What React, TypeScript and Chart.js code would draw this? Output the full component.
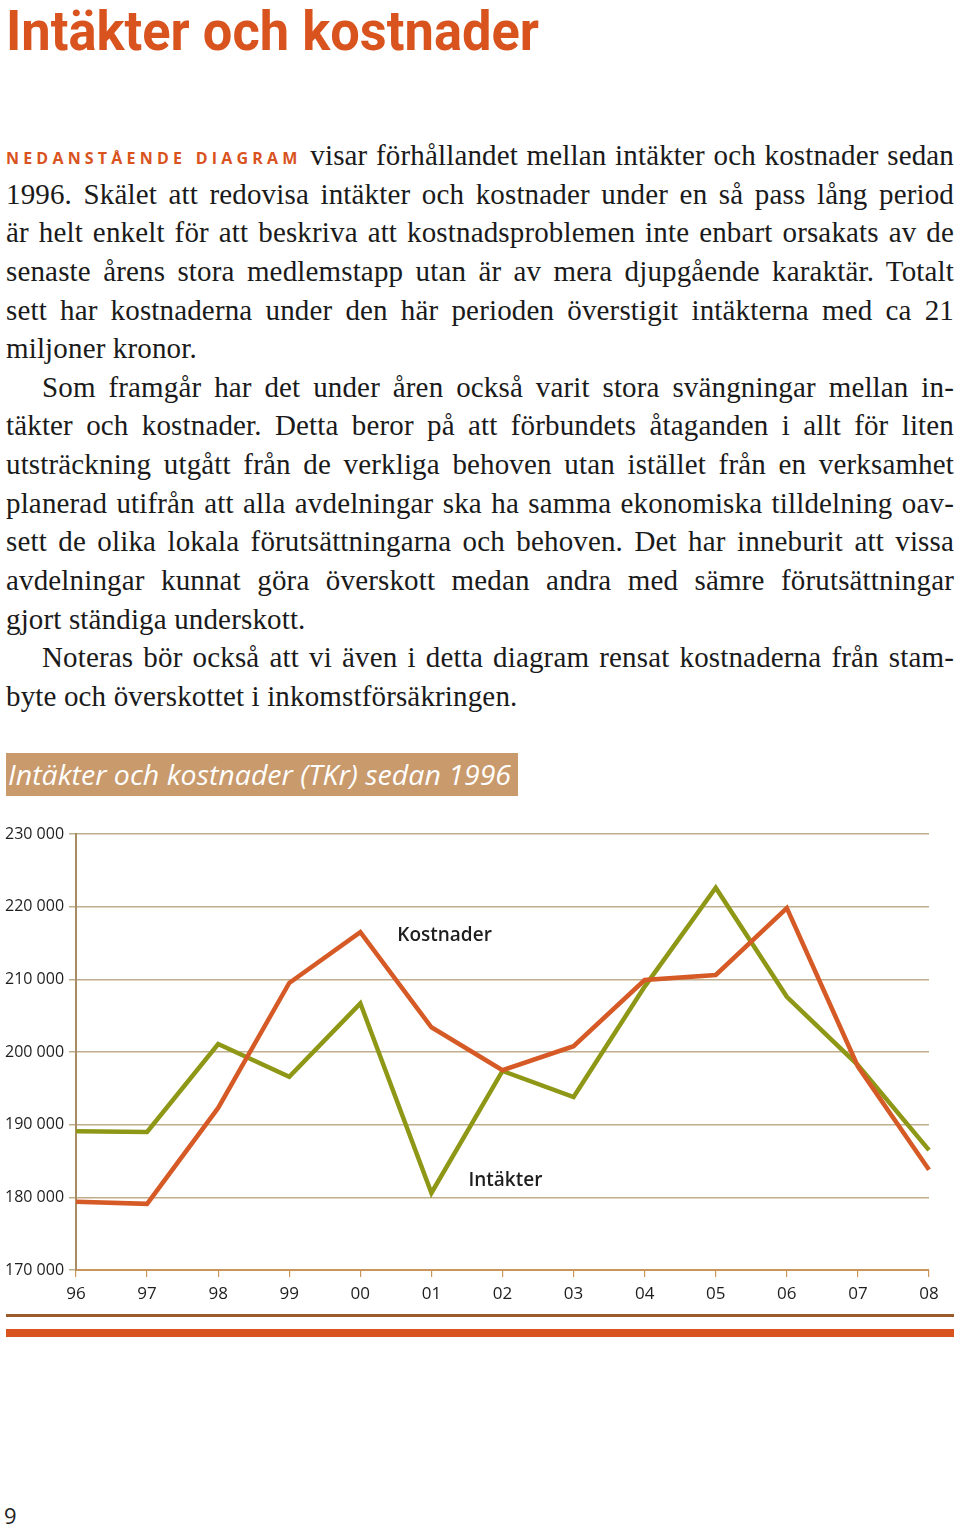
import React, { useEffect, useLayoutEffect, useRef, useState } from "react";
import { Chart, registerables } from "chart.js";

Chart.register(...registerables);

// ---- data ----
const years = ["96", "97", "98", "99", "00", "01", "02", "03", "04", "05", "06", "07", "08"];
const kostnader = [179400, 179100, 192300, 209500, 216500, 203400, 197500, 200800, 209900, 210600, 219800, 198000, 183800];
const intakter = [189100, 189000, 201100, 196600, 206700, 180600, 197400, 193800, 209000, 222600, 207600, 198200, 186500];
const yTickValues = [170000, 180000, 190000, 200000, 210000, 220000, 230000];
const yTickLabels = ["170 000", "180 000", "190 000", "200 000", "210 000", "220 000", "230 000"];
const seriesNames = ["Kostnader", "Intäkter"];
// label anchor positions in data terms (category index, value)
const labelAnchors = [
  { x: 4.52, y: 215300 },
  { x: 5.52, y: 181600 },
];

const ORANGE = "#d65a26";
const GREEN = "#8e9816";
const CHART_FONT = "'Open Sans', 'Noto Sans', sans-serif";

const bodyLines: { text: React.ReactNode; justify: boolean; indent?: boolean }[] = [
  {
    text: (
      <>
        <span style={{ fontFamily: "'Open Sans', sans-serif", fontWeight: 700, fontSize: 16, letterSpacing: 4.2, color: "#d9531e", verticalAlign: 1 }}>NEDANSTÅENDE DIAGRAM</span> visar förhållandet mellan intäkter och kostnader sedan
      </>
    ),
    justify: true,
  },
  { text: "1996. Skälet att redovisa intäkter och kostnader under en så pass lång period", justify: true },
  { text: "är helt enkelt för att beskriva att kostnadsproblemen inte enbart orsakats av de", justify: true },
  { text: "senaste årens stora medlemstapp utan är av mera djupgående karaktär. Totalt", justify: true },
  { text: "sett har kostnaderna under den här perioden överstigit intäkterna med ca 21", justify: true },
  { text: "miljoner kronor.", justify: false },
  { text: "Som framgår har det under åren också varit stora svängningar mellan in-", justify: true, indent: true },
  { text: "täkter och kostnader. Detta beror på att förbundets åtaganden i allt för liten", justify: true },
  { text: "utsträckning utgått från de verkliga behoven utan istället från en verksamhet", justify: true },
  { text: "planerad utifrån att alla avdelningar ska ha samma ekonomiska tilldelning oav-", justify: true },
  { text: "sett de olika lokala förutsättningarna och behoven. Det har inneburit att vissa", justify: true },
  { text: "avdelningar kunnat göra överskott medan andra med sämre förutsättningar", justify: true },
  { text: "gjort ständiga underskott.", justify: false },
  { text: "Noteras bör också att vi även i detta diagram rensat kostnaderna från stam-", justify: true, indent: true },
  { text: "byte och överskottet i inkomstförsäkringen.", justify: false },
];

function FitText({ width, style, children }: { width: number; style: React.CSSProperties; children: React.ReactNode }) {
  const ref = useRef<HTMLSpanElement>(null);
  const [s, setS] = useState(1);
  useLayoutEffect(() => {
    if (ref.current) {
      const w = ref.current.offsetWidth;
      if (w > 0) setS(width / w);
    }
  }, [width]);
  return (
    <span
      ref={ref}
      style={{ display: "inline-block", whiteSpace: "nowrap", transform: `scaleX(${s})`, transformOrigin: "left center", ...style }}
    >
      {children}
    </span>
  );
}

function LineChart() {
  const canvasRef = useRef<HTMLCanvasElement>(null);
  useEffect(() => {
    if (!canvasRef.current) return;
    const labelPlugin = {
      id: "seriesLabels",
      afterDatasetsDraw(chart: any) {
        const ctx = chart.ctx;
        const xs = chart.scales.x;
        const ys = chart.scales.y;
        ctx.save();
        ctx.fillStyle = "#1e1e1e";
        ctx.font = `600 19px ${CHART_FONT}`;
        ctx.textAlign = "left";
        ctx.textBaseline = "alphabetic";
        seriesNames.forEach((name, i) => {
          const a = labelAnchors[i];
          const x0 = xs.getPixelForValue(Math.floor(a.x));
          const x1 = xs.getPixelForValue(Math.ceil(a.x));
          const px = x0 + (x1 - x0) * (a.x - Math.floor(a.x));
          ctx.fillText(name, px, ys.getPixelForValue(a.y));
        });
        ctx.restore();
      },
    };
    const chart = new Chart(canvasRef.current, {
      type: "line",
      data: {
        labels: years,
        datasets: [
          { label: seriesNames[0], data: kostnader, borderColor: ORANGE, borderWidth: 4.5, pointRadius: 0, tension: 0, fill: false, borderJoinStyle: "miter" as any },
          { label: seriesNames[1], data: intakter, borderColor: GREEN, borderWidth: 4.5, pointRadius: 0, tension: 0, fill: false, borderJoinStyle: "miter" as any },
        ],
      },
      options: {
        animation: false,
        responsive: false,
        maintainAspectRatio: false,
        layout: { padding: { left: 5, top: 34, right: 31, bottom: 0 } },
        plugins: { legend: { display: false }, tooltip: { enabled: false } },
        scales: {
          x: {
            type: "category",
            offset: false,
            grid: { drawOnChartArea: false, drawTicks: true, tickLength: 7, color: "#c9955a", lineWidth: 1.2 },
            border: { color: "#c9955a", width: 2 },
            ticks: { color: "#1e1e1e", font: { family: CHART_FONT, size: 17 }, padding: 7, maxRotation: 0, autoSkip: false },
            afterFit: (s: any) => {
              s.height = 40;
            },
          },
          y: {
            min: 170000,
            max: 230000,
            afterBuildTicks: (s: any) => {
              s.ticks = yTickValues.map((v) => ({ value: v }));
            },
            ticks: {
              color: "#1e1e1e",
              font: { family: CHART_FONT, size: 16 },
              crossAlign: "far",
              padding: 4,
              callback: (v: any) => {
                const i = yTickValues.indexOf(Number(v));
                return i >= 0 ? yTickLabels[i] : "";
              },
            },
            grid: { color: "#bfad8c", lineWidth: 1.5, tickLength: 7 },
            border: { color: "#a88c62", width: 2 },
            afterFit: (s: any) => {
              s.width = 71;
            },
          },
        },
      },
      plugins: [labelPlugin],
    });
    return () => chart.destroy();
  }, []);
  return <canvas ref={canvasRef} width={960} height={510} style={{ position: "absolute", left: 0, top: 800, width: 960, height: 510 }} />;
}

export default function App() {
  const LH = 38.64;
  return (
    <div style={{ position: "absolute", left: 0, top: 0, width: 960, height: 1528, background: "#fff", overflow: "hidden" }}>
      <div style={{ position: "absolute", left: 6, top: 1, lineHeight: "60px", height: 60 }}>
        <FitText width={533} style={{ fontFamily: "Roboto, 'Open Sans', sans-serif", fontWeight: 700, fontSize: 55, color: "#d9531e" }}>
          Intäkter och kostnader
        </FitText>
      </div>

      <div style={{ position: "absolute", left: 6, top: 136, width: 948, fontFamily: "'Liberation Serif', 'Times New Roman', serif", fontSize: 29, letterSpacing: 0.15, color: "#1a1a1a" }}>
        {bodyLines.map((l, i) => (
          <div
            key={i}
            style={{
              height: LH,
              lineHeight: `${LH}px`,
              whiteSpace: "nowrap",
              textAlign: l.justify ? "justify" : "left",
              textAlignLast: l.justify ? "justify" : "left",
              paddingLeft: l.indent ? 36 : 0,
            } as React.CSSProperties}
          >
            {l.text}
          </div>
        ))}
      </div>

      <div style={{ position: "absolute", left: 6, top: 753, width: 512, height: 43, background: "#c99a6c" }}>
        <div style={{ position: "absolute", left: 2, top: 0, lineHeight: "43px" }}>
          <FitText width={503} style={{ fontFamily: "'Open Sans', sans-serif", fontStyle: "italic", fontSize: 28, color: "#fff" }}>
            Intäkter och kostnader (TKr) sedan 1996
          </FitText>
        </div>
      </div>

      <LineChart />

      <div style={{ position: "absolute", left: 6, top: 1314, width: 948, height: 3, background: "#9a5a2a" }} />
      <div style={{ position: "absolute", left: 6, top: 1329, width: 948, height: 8, background: "#d9531e" }} />

      <div style={{ position: "absolute", left: 4, top: 1500, fontFamily: "'Open Sans', sans-serif", fontSize: 22, lineHeight: "30px", color: "#222" }}>9</div>
    </div>
  );
}
